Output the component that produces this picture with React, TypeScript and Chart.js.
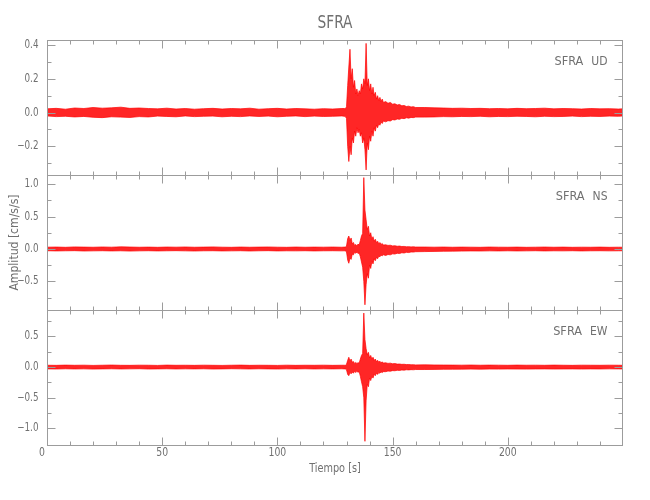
import React, { useEffect, useRef } from 'react';
import { Chart, registerables } from 'chart.js';

Chart.register(...registerables);

// ---------- text ----------
const TITLE = 'SFRA';
const X_TITLE = 'Tiempo [s]';
const Y_TITLE = 'Amplitud [cm/s/s]';
const STATION = 'SFRA';

// ---------- time samples (s) of the envelope readings ----------
const TIME = [
  0, 4, 8, 12, 16, 20, 24, 28, 32, 36, 40, 44, 48, 52, 56, 60, 64, 68, 72, 76, 80, 84, 88, 92, 96, 100, 104, 108, 112, 116, 120, 124, 128,
  129, 129.5, 130, 130.5, 131, 131.5, 132, 132.5, 133, 133.5, 134, 134.5, 135, 135.5, 136, 136.5, 137, 137.5, 138, 138.5, 139, 139.5, 140, 140.5, 141, 141.5, 142, 142.5, 143, 143.5, 144, 144.5, 145, 145.5, 146,
  147, 148, 149, 150, 151, 152, 153, 154, 155, 156, 157, 158, 159, 160,
  164, 168, 172, 176, 180, 184, 188, 192, 196, 200, 204, 208, 212, 216, 220, 224, 228, 232, 236, 240, 244, 248, 250,
];

// ---------- UD component: upper / lower envelope (cm/s/s) ----------
const UD_HIGH = [
  0.022, 0.025, 0.02, 0.027, 0.024, 0.03, 0.026, 0.028, 0.032, 0.025, 0.027, 0.024, 0.022, 0.026, 0.021, 0.024, 0.02, 0.023, 0.025, 0.021, 0.024, 0.022, 0.026, 0.02, 0.023, 0.025, 0.021, 0.024, 0.022, 0.02, 0.023, 0.021, 0.024,
  0.024, 0.022, 0.035, 0.16, 0.27, 0.375, 0.2, 0.26, 0.15, 0.19, 0.11, 0.14, 0.1, 0.13, 0.11, 0.17, 0.14, 0.2, 0.17, 0.41, 0.16, 0.2, 0.13, 0.17, 0.11, 0.15, 0.1, 0.12, 0.08, 0.1, 0.07, 0.09, 0.065, 0.08, 0.06,
  0.065, 0.055, 0.06, 0.05, 0.052, 0.045, 0.048, 0.04, 0.042, 0.036, 0.038, 0.033, 0.035, 0.03,
  0.03, 0.028, 0.027, 0.025, 0.026, 0.024, 0.025, 0.023, 0.024, 0.022, 0.025, 0.023, 0.024, 0.026, 0.022, 0.024, 0.023, 0.021, 0.024, 0.022, 0.023, 0.021, 0.022,
];
const UD_LOW = [
  -0.02, -0.024, -0.022, -0.026, -0.023, -0.028, -0.03, -0.025, -0.027, -0.029, -0.024, -0.026, -0.021, -0.023, -0.025, -0.02, -0.024, -0.022, -0.021, -0.025, -0.022, -0.024, -0.02, -0.023, -0.021, -0.025, -0.022, -0.02, -0.024, -0.021, -0.023, -0.022, -0.02,
  -0.022, -0.024, -0.035, -0.2, -0.29, -0.2, -0.25, -0.15, -0.18, -0.11, -0.14, -0.09, -0.12, -0.1, -0.14, -0.12, -0.18, -0.15, -0.22, -0.34, -0.18, -0.22, -0.14, -0.17, -0.11, -0.14, -0.09, -0.11, -0.075, -0.09, -0.065, -0.075, -0.055, -0.065, -0.05,
  -0.055, -0.048, -0.05, -0.042, -0.044, -0.038, -0.04, -0.034, -0.036, -0.031, -0.033, -0.029, -0.03, -0.027,
  -0.027, -0.026, -0.024, -0.025, -0.023, -0.024, -0.022, -0.025, -0.023, -0.024, -0.022, -0.023, -0.025, -0.022, -0.024, -0.023, -0.021, -0.024, -0.022, -0.023, -0.021, -0.022, -0.02,
];

// ---------- NS component ----------
const NS_HIGH = [
  0.028, 0.03, 0.026, 0.032, 0.029, 0.027, 0.031, 0.028, 0.033, 0.03, 0.027, 0.029, 0.026, 0.03, 0.028, 0.031, 0.027, 0.029, 0.032, 0.028, 0.026, 0.03, 0.027, 0.029, 0.031, 0.028, 0.026, 0.03, 0.027, 0.029, 0.028, 0.03, 0.027,
  0.029, 0.03, 0.045, 0.16, 0.2, 0.13, 0.17, 0.08, 0.1, 0.055, 0.07, 0.05, 0.075, 0.06, 0.13, 0.2, 0.24, 1.1, 0.6, 0.45, 0.3, 0.35, 0.2, 0.25, 0.15, 0.19, 0.12, 0.15, 0.1, 0.12, 0.08, 0.1, 0.07, 0.085, 0.06,
  0.065, 0.055, 0.058, 0.048, 0.05, 0.042, 0.045, 0.038, 0.04, 0.034, 0.036, 0.032, 0.034, 0.03,
  0.03, 0.028, 0.03, 0.027, 0.029, 0.028, 0.026, 0.03, 0.028, 0.027, 0.029, 0.026, 0.028, 0.03, 0.027, 0.029, 0.026, 0.028, 0.027, 0.029, 0.026, 0.028, 0.027,
];
const NS_LOW = [
  -0.027, -0.03, -0.028, -0.026, -0.031, -0.029, -0.027, -0.03, -0.028, -0.032, -0.029, -0.027, -0.03, -0.028, -0.026, -0.029, -0.031, -0.028, -0.027, -0.03, -0.029, -0.027, -0.031, -0.028, -0.026, -0.03, -0.028, -0.029, -0.027, -0.03, -0.028, -0.027, -0.029,
  -0.028, -0.03, -0.045, -0.17, -0.22, -0.14, -0.16, -0.08, -0.09, -0.05, -0.065, -0.05, -0.07, -0.06, -0.12, -0.2, -0.28, -0.5, -0.86, -0.55, -0.38, -0.45, -0.25, -0.3, -0.19, -0.23, -0.15, -0.18, -0.13, -0.15, -0.11, -0.12, -0.095, -0.105, -0.09,
  -0.1, -0.085, -0.09, -0.075, -0.078, -0.066, -0.07, -0.058, -0.062, -0.052, -0.055, -0.046, -0.048, -0.042,
  -0.04, -0.037, -0.035, -0.033, -0.032, -0.03, -0.031, -0.029, -0.03, -0.028, -0.03, -0.029, -0.027, -0.03, -0.028, -0.029, -0.027, -0.03, -0.028, -0.027, -0.029, -0.028, -0.027,
];

// ---------- EW component ----------
const EW_HIGH = [
  0.03, 0.028, 0.032, 0.029, 0.031, 0.027, 0.03, 0.033, 0.029, 0.028, 0.031, 0.03, 0.027, 0.032, 0.029, 0.03, 0.028, 0.031, 0.029, 0.027, 0.03, 0.032, 0.028, 0.03, 0.029, 0.027, 0.031, 0.028, 0.03, 0.029, 0.031, 0.028, 0.03,
  0.03, 0.029, 0.045, 0.11, 0.16, 0.1, 0.13, 0.08, 0.09, 0.06, 0.075, 0.06, 0.07, 0.065, 0.13, 0.19, 0.22, 0.88, 0.45, 0.3, 0.2, 0.24, 0.15, 0.19, 0.13, 0.16, 0.11, 0.13, 0.09, 0.11, 0.08, 0.095, 0.07, 0.085, 0.065,
  0.07, 0.06, 0.064, 0.054, 0.057, 0.048, 0.05, 0.044, 0.046, 0.04, 0.042, 0.037, 0.039, 0.035,
  0.036, 0.034, 0.033, 0.032, 0.031, 0.033, 0.03, 0.032, 0.031, 0.029, 0.032, 0.03, 0.031, 0.029, 0.032, 0.03, 0.028, 0.031, 0.03, 0.029, 0.031, 0.03, 0.029,
];
const EW_LOW = [
  -0.03, -0.032, -0.028, -0.031, -0.029, -0.033, -0.03, -0.028, -0.031, -0.029, -0.027, -0.032, -0.03, -0.028, -0.031, -0.029, -0.03, -0.028, -0.032, -0.03, -0.027, -0.029, -0.031, -0.028, -0.03, -0.032, -0.029, -0.03, -0.028, -0.031, -0.029, -0.03, -0.028,
  -0.03, -0.031, -0.045, -0.12, -0.14, -0.09, -0.11, -0.08, -0.1, -0.07, -0.09, -0.07, -0.085, -0.075, -0.15, -0.24, -0.32, -0.5, -1.21, -0.55, -0.28, -0.32, -0.18, -0.22, -0.15, -0.18, -0.12, -0.14, -0.1, -0.12, -0.09, -0.1, -0.08, -0.09, -0.075,
  -0.075, -0.065, -0.068, -0.058, -0.06, -0.052, -0.055, -0.048, -0.05, -0.044, -0.046, -0.042, -0.044, -0.04,
  -0.04, -0.038, -0.036, -0.035, -0.034, -0.033, -0.034, -0.032, -0.033, -0.031, -0.032, -0.033, -0.031, -0.03, -0.032, -0.031, -0.03, -0.032, -0.03, -0.031, -0.029, -0.03, -0.031,
];

// ---------- axes ----------
const X_MIN = 0;
const X_MAX = 250;
const X_MAJOR = [0, 50, 100, 150, 200];
const X_LABELS = ['0', '50', '100', '150', '200'];
const X_MINOR = [10, 20, 30, 40, 60, 70, 80, 90, 110, 120, 130, 140, 160, 170, 180, 190, 210, 220, 230, 240];

const UD_RANGE = [-0.37, 0.43];
const UD_MAJOR = [-0.2, 0, 0.2, 0.4];
const UD_LABELS = ['\u22120.2', '0.0', '0.2', '0.4'];
const UD_MINOR = [-0.3, -0.1, 0.1, 0.3];

const NS_RANGE = [-0.94, 1.14];
const NS_MAJOR = [-0.5, 0, 0.5, 1.0];
const NS_LABELS = ['\u22120.5', '0.0', '0.5', '1.0'];
const NS_MINOR = [-0.75, -0.25, 0.25, 0.75];

const EW_RANGE = [-1.27, 0.93];
const EW_MAJOR = [-1.0, -0.5, 0, 0.5];
const EW_LABELS = ['\u22121.0', '\u22120.5', '0.0', '0.5'];
const EW_MINOR = [-0.75, -0.25, 0.25, 0.75];

const FRAME = '#9c9c9c';
const TEXT = '#707070';
const TRACE_LINE = 'rgba(255,0,0,0.7)';
const TRACE_FILL = 'rgba(255,0,0,0.85)';
const FONT = "'Liberation Sans Narrow','DejaVu Sans Condensed','Liberation Sans',sans-serif";

const PANELS = [
  { id: 'yUD', comp: 'UD', major: UD_MAJOR, minor: UD_MINOR, labels: UD_LABELS },
  { id: 'yNS', comp: 'NS', major: NS_MAJOR, minor: NS_MINOR, labels: NS_LABELS },
  { id: 'yEW', comp: 'EW', major: EW_MAJOR, minor: EW_MINOR, labels: EW_LABELS },
];

function drawText(ctx: CanvasRenderingContext2D, text: string, x: number, y: number, size: number, align: CanvasTextAlign, sx = 1, rot = 0) {
  ctx.save();
  ctx.translate(x, y);
  if (rot) ctx.rotate(rot);
  ctx.scale(sx, 1);
  ctx.font = `${size}px ${FONT}`;
  ctx.textAlign = align;
  ctx.textBaseline = 'middle';
  ctx.fillStyle = TEXT;
  ctx.fillText(text, 0, 0);
  const w = ctx.measureText(text).width * sx;
  ctx.restore();
  return w;
}

const framePlugin = {
  id: 'seismoFrames',
  afterDraw(chart: any) {
    const ctx: CanvasRenderingContext2D = chart.ctx;
    const xs = chart.scales.x;
    const L = Math.round(xs.left) + 0.5;
    const R = Math.round(xs.right) - 0.5;
    const line = (x1: number, y1: number, x2: number, y2: number) => {
      ctx.beginPath();
      ctx.moveTo(x1, y1);
      ctx.lineTo(x2, y2);
      ctx.stroke();
    };
    ctx.save();
    ctx.strokeStyle = FRAME;
    ctx.lineWidth = 1;
    PANELS.forEach((p) => {
      const s = chart.scales[p.id];
      const top = Math.round(s.top) + 0.5;
      const bottom = Math.round(s.bottom) + 0.5;
      ctx.strokeRect(L, top, R - L, bottom - top);
      const yTick = (v: number, len: number) => {
        const y = Math.round(s.getPixelForValue(v)) + 0.5;
        line(L, y, L + len, y);
        line(R, y, R - len, y);
      };
      p.major.forEach((v) => yTick(v, 8));
      p.minor.forEach((v) => yTick(v, 4));
      const xTick = (v: number, len: number) => {
        const x = Math.round(xs.getPixelForValue(v)) + 0.5;
        line(x, top, x, top + len);
        line(x, bottom, x, bottom - len);
      };
      X_MAJOR.forEach((v) => xTick(v, 8));
      X_MINOR.forEach((v) => xTick(v, 4));
      p.major.forEach((v, i) => drawText(ctx, p.labels[i], L - 9, s.getPixelForValue(v), 11.5, 'right', 0.85));
      const wc = drawText(ctx, p.comp, R - 15, s.top + 22, 12, 'right', 1.0);
      drawText(ctx, STATION, R - 15 - wc - 8, s.top + 22, 12, 'right', 1.05);
    });
    X_MAJOR.forEach((v, i) => drawText(ctx, X_LABELS[i], xs.getPixelForValue(v) - (v === 0 ? 5 : 0), 453, 11.5, 'center', 0.9));
    const area = chart.chartArea;
    const cx = (area.left + area.right) / 2;
    drawText(ctx, TITLE, cx, 23, 18, 'center', 0.85);
    drawText(ctx, X_TITLE, cx, 469, 12, 'center', 0.9);
    drawText(ctx, Y_TITLE, 15.5, (area.top + area.bottom) / 2, 11.5, 'center', 1.05, -Math.PI / 2);
    ctx.restore();
  },
};

const hiddenAxis = {
  ticks: { display: false },
  grid: { display: false, drawTicks: false },
  border: { display: false },
};

function series(high: number[], low: number[], axis: string) {
  return [
    {
      data: TIME.map((t, i) => ({ x: t, y: high[i] })),
      yAxisID: axis,
      borderColor: TRACE_LINE,
      backgroundColor: TRACE_FILL,
      borderWidth: 1,
      pointRadius: 0,
      tension: 0,
      fill: '+1',
    },
    {
      data: TIME.map((t, i) => ({ x: t, y: low[i] })),
      yAxisID: axis,
      borderColor: TRACE_LINE,
      backgroundColor: TRACE_FILL,
      borderWidth: 1,
      pointRadius: 0,
      tension: 0,
      fill: false,
    },
  ];
}

export default function App() {
  const ref = useRef<HTMLCanvasElement | null>(null);
  useEffect(() => {
    if (!ref.current) return;
    const chart = new Chart(ref.current, {
      type: 'line',
      data: {
        datasets: [
          ...series(UD_HIGH, UD_LOW, 'yUD'),
          ...series(NS_HIGH, NS_LOW, 'yNS'),
          ...series(EW_HIGH, EW_LOW, 'yEW'),
        ] as any,
      },
      options: {
        animation: false,
        responsive: false,
        devicePixelRatio: 1,
        events: [],
        layout: { padding: { left: 47, right: 27, top: 40, bottom: 55 } },
        plugins: {
          legend: { display: false },
          title: { display: false },
          tooltip: { enabled: false },
        },
        scales: {
          x: { type: 'linear', min: X_MIN, max: X_MAX, ...hiddenAxis },
          yEW: { type: 'linear', position: 'left', stack: 'panels', stackWeight: 1, weight: 1, min: EW_RANGE[0], max: EW_RANGE[1], ...hiddenAxis },
          yNS: { type: 'linear', position: 'left', stack: 'panels', stackWeight: 1, weight: 2, min: NS_RANGE[0], max: NS_RANGE[1], ...hiddenAxis },
          yUD: { type: 'linear', position: 'left', stack: 'panels', stackWeight: 1, weight: 3, min: UD_RANGE[0], max: UD_RANGE[1], ...hiddenAxis },
        } as any,
      },
      plugins: [framePlugin],
    });
    return () => chart.destroy();
  }, []);
  return (
    <div style={{ position: 'fixed', left: 0, top: 0, width: 650, height: 500, background: '#ffffff' }}>
      <canvas ref={ref} width={650} height={500} style={{ display: 'block', width: 650, height: 500 }} />
    </div>
  );
}
